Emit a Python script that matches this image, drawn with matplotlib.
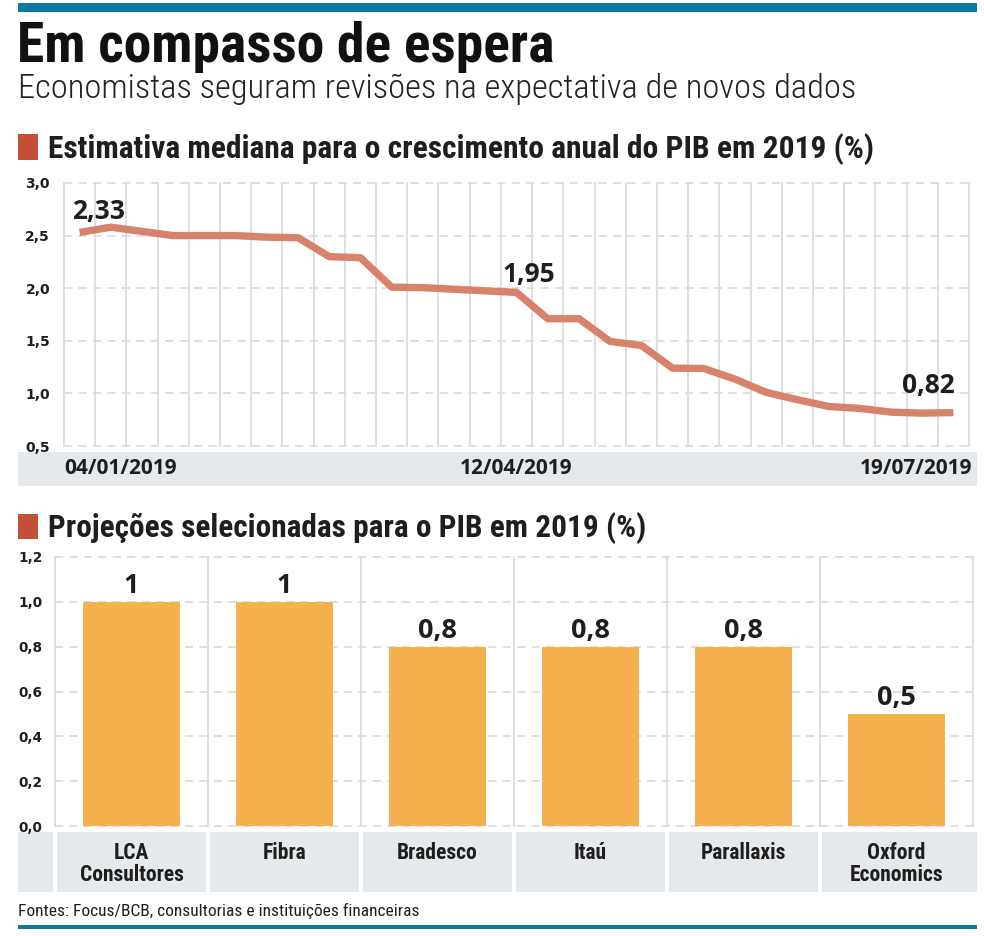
import matplotlib
matplotlib.use('Agg')
import matplotlib.pyplot as plt
from matplotlib.patches import Rectangle
import matplotlib.transforms as mtransforms
import numpy as np

# ---------------- data ----------------
week_dates = ['04/01/2019', '11/01/2019', '18/01/2019', '25/01/2019',
              '01/02/2019', '08/02/2019', '15/02/2019', '22/02/2019',
              '01/03/2019', '08/03/2019', '15/03/2019', '22/03/2019', '29/03/2019',
              '05/04/2019', '12/04/2019', '19/04/2019', '26/04/2019',
              '03/05/2019', '10/05/2019', '17/05/2019', '24/05/2019', '31/05/2019',
              '07/06/2019', '14/06/2019', '21/06/2019', '28/06/2019',
              '05/07/2019', '12/07/2019', '19/07/2019']
pib_median = [2.53, 2.58, 2.54, 2.50, 2.50, 2.50, 2.485, 2.48, 2.30, 2.29,
              2.01, 2.005, 1.99, 1.975, 1.96, 1.71, 1.71, 1.494, 1.456, 1.24,
              1.237, 1.136, 1.01, 0.94, 0.876, 0.857, 0.822, 0.812, 0.818]
line_yticks = [0.5, 1.0, 1.5, 2.0, 2.5, 3.0]
line_ytick_labels = ['0,5', '1,0', '1,5', '2,0', '2,5', '3,0']
date_ticks_idx = [0, 14, 28]
callout_idx = [0, 14, 28]
callout_text = ['2,33', '1,95', '0,82']

banks = ['LCA\nConsultores', 'Fibra', 'Bradesco', 'Itaú', 'Parallaxis', 'Oxford\nEconomics']
projections = [1.0, 1.0, 0.8, 0.8, 0.8, 0.5]
proj_labels = ['1', '1', '0,8', '0,8', '0,8', '0,5']
bar_yticks = [0.0, 0.2, 0.4, 0.6, 0.8, 1.0, 1.2]
bar_ytick_labels = ['0,0', '0,2', '0,4', '0,6', '0,8', '1,0', '1,2']

title = 'Em compasso de espera'
subtitle = 'Economistas seguram revisões na expectativa de novos dados'
head1 = 'Estimativa mediana para o crescimento anual do PIB em 2019 (%)'
head2 = 'Projeções selecionadas para o PIB em 2019 (%)'
source = 'Fontes: Focus/BCB, consultorias e instituições financeiras'

# ---------------- style ----------------
W, H = 984, 936
COND = ['Roboto Condensed', 'Liberation Sans Narrow', 'DejaVu Sans Condensed', 'Roboto', 'DejaVu Sans']
NUM = ['Open Sans', 'Lato', 'DejaVu Sans']
TICK = ['DejaVu Sans']
BLUE = '#0b78a0'
RED = '#c4503a'
LINE = '#d8826b'
BAR = '#f5b04f'
BAND = '#e6e9ec'
GRID = '#dcdcdc'
TXT = '#1e1e1e'

def fx(px):
    return px / W

def fy(py):
    return 1 - py / H

fig = plt.figure(figsize=(W / 100, H / 100), dpi=100)
fig.patch.set_facecolor('white')

# top & bottom blue rules
fig.add_artist(Rectangle((fx(18), fy(12)), fx(977) - fx(18), 9 / H, transform=fig.transFigure,
                         color=BLUE, lw=0))
fig.add_artist(Rectangle((fx(18), fy(929)), fx(977) - fx(18), 4 / H, transform=fig.transFigure,
                         color=BLUE, lw=0))

# titles
fig.text(fx(17), fy(62), title, family=COND, weight='black', fontsize=40, color='#111111',
         va='baseline', ha='left')
fig.text(fx(18), fy(98), subtitle, family=COND, weight='light', fontsize=24.8, color='#222222',
         va='baseline', ha='left')

# section headers
fig.add_artist(Rectangle((fx(18), fy(160)), 20 / W, 26 / H, transform=fig.transFigure, color=RED, lw=0))
fig.text(fx(48), fy(158), head1, family=COND, weight='bold', fontsize=22.7, color=TXT, va='baseline')
fig.add_artist(Rectangle((fx(18), fy(539)), 20 / W, 25 / H, transform=fig.transFigure, color=RED, lw=0))
fig.text(fx(48), fy(537), head2, family=COND, weight='bold', fontsize=22.5, color=TXT, va='baseline')

# ---------------- line chart ----------------
ax1 = fig.add_axes([fx(64), fy(446), (969 - 64) / W, (446 - 183) / H])
n = len(pib_median)
x = np.arange(n)
ax1.set_xlim(-0.5, n - 0.5)
ax1.set_ylim(line_yticks[0], line_yticks[-1])
for s in ax1.spines.values():
    s.set_visible(False)
ax1.set_facecolor('none')
for xv in np.arange(-0.5, n, 1.0):
    ax1.axvline(xv, color=GRID, lw=1.3, zorder=0, clip_on=False)
for yv in line_yticks:
    ax1.axhline(yv, color=GRID, lw=1.3, ls=(0, (4.5, 3.5)), zorder=0, clip_on=False)
ax1.plot(x, pib_median, color=LINE, lw=5.3, solid_joinstyle='round', solid_capstyle='butt',
         zorder=3, clip_on=False)
ax1.set_yticks(line_yticks)
ax1.set_yticklabels(line_ytick_labels, family=TICK, weight='bold', fontsize=10, color=TXT)
ax1.tick_params(axis='y', length=0, pad=10)
ax1.set_xticks([])

offs = [(-8, 13, 'left'), (-14, 10, 'left'), (1, 20, 'right')]
for i, t, (dx, dy, ha) in zip(callout_idx, callout_text, offs):
    ax1.annotate(t, (x[i], pib_median[i]), xytext=(dx, dy), textcoords='offset pixels',
                 ha=ha, va='baseline', family=NUM, weight='bold', fontsize=19, color=TXT)

# date band
fig.add_artist(Rectangle((fx(18), fy(486)), fx(977) - fx(18), 34 / H, transform=fig.transFigure,
                         color=BAND, lw=0, zorder=0))
btr1 = mtransforms.blended_transform_factory(ax1.transData, fig.transFigure)
date_pos = [(-0.5, 'left'), (14, 'center'), (n - 0.5 + 0.1, 'right')]
for i, (xp, ha) in zip(date_ticks_idx, date_pos):
    fig.text(xp, fy(469), week_dates[i], transform=btr1, ha=ha, va='center',
             family=NUM, weight='bold', fontsize=15, color=TXT)

# ---------------- bar chart ----------------
ax2 = fig.add_axes([fx(55), fy(826), (973 - 55) / W, (826 - 557) / H])
m = len(projections)
xb = np.arange(m)
ax2.set_xlim(-0.5, m - 0.5)
ax2.set_ylim(bar_yticks[0], bar_yticks[-1])
for s in ax2.spines.values():
    s.set_visible(False)
ax2.set_facecolor('none')
for xv in np.arange(-0.5, m, 1.0):
    ax2.axvline(xv, color=GRID, lw=1.3, zorder=0, clip_on=False)
for yv in bar_yticks:
    ax2.axhline(yv, color=GRID, lw=1.3, ls=(0, (4.5, 3.5)), zorder=0, clip_on=False)
ax2.bar(xb, projections, width=0.64, color=BAR, zorder=2)
for i, (v, lbl) in enumerate(zip(projections, proj_labels)):
    ax2.annotate(lbl, (xb[i], v), xytext=(0, 9), textcoords='offset pixels', ha='center',
                 va='baseline', family=NUM, weight='bold', fontsize=19.5, color=TXT)
ax2.set_yticks(bar_yticks)
ax2.set_yticklabels(bar_ytick_labels, family=TICK, weight='bold', fontsize=9.8, color=TXT)
ax2.tick_params(axis='y', length=0, pad=9)
ax2.set_xticks([])

# category band
btr2 = mtransforms.blended_transform_factory(ax2.transData, fig.transFigure)
fig.add_artist(Rectangle((fx(18), fy(892)), 35 / W, 60 / H, transform=fig.transFigure,
                         color=BAND, lw=0, zorder=0))
gap = 0.012
for i in range(m):
    left = i - 0.5 + gap
    right = i + 0.5 - gap if i < m - 1 else i + 0.5 + 4 / 153
    fig.add_artist(Rectangle((left, fy(892)), right - left, 60 / H, transform=btr2,
                             color=BAND, lw=0, zorder=0))
    fig.text(xb[i], fy(842), banks[i], transform=btr2, ha='center', va='top', linespacing=1.0,
             family=COND, weight='bold', fontsize=15.5, color=TXT)

fig.text(fx(18), fy(916), source, family=COND, fontsize=12.5, color=TXT, va='baseline')

fig.savefig('out.png', dpi=100, facecolor='white')
